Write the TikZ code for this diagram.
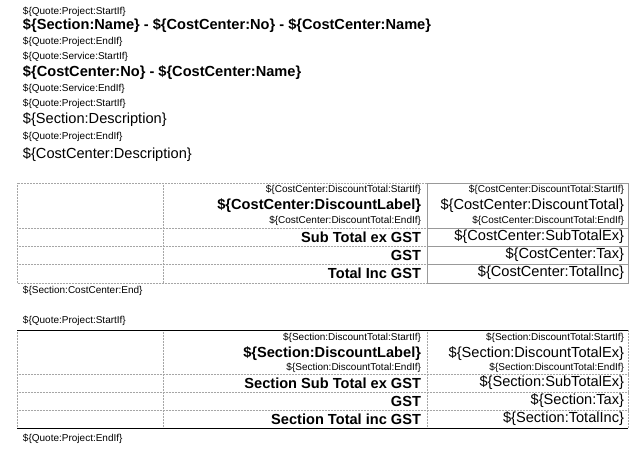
\documentclass[tikz,border=0pt]{standalone}
\usepackage{fontspec}
\setmainfont{Liberation Sans}
\usepackage{tikz}

\begin{document}
\begin{tikzpicture}[x=1pt,y=-1pt,
		every node/.style={inner sep=0pt,outer sep=0pt},
		tag/.style={font=\fontsize{10}{11}\selectfont},
		head/.style={font=\fontsize{14.6}{16}\selectfont\bfseries},
		field/.style={font=\fontsize{14.6}{16}\selectfont},
		lbl/.style={font=\fontsize{14.6}{16}\selectfont\bfseries,anchor=east},
		val/.style={font=\fontsize{14.6}{16}\selectfont,anchor=east},
		grid/.style={gray!70,densely dotted,line width=0.5pt},
		cell/.style={gray!80,line width=0.6pt},
		rule/.style={black,line width=0.7pt}]
	\useasboundingbox (0,0) rectangle (642,450);
	% template header lines
	\node[tag,anchor=west] (t1) at (23,12) {\$\{Quote:Project:StartIf\}};
	\node[head,anchor=west] (t2) at (23,26) {\$\{Section:Name\} - \$\{CostCenter:No\} - \$\{CostCenter:Name\}};
	\node[tag,anchor=west] (t3) at (23,42) {\$\{Quote:Project:EndIf\}};
	\node[tag,anchor=west] (t4) at (23,57) {\$\{Quote:Service:StartIf\}};
	\node[head,anchor=west] (t5) at (23,73) {\$\{CostCenter:No\} - \$\{CostCenter:Name\}};
	\node[tag,anchor=west] (t6) at (23,89) {\$\{Quote:Service:EndIf\}};
	\node[tag,anchor=west] (t7) at (23,104) {\$\{Quote:Project:StartIf\}};
	\node[field,anchor=west] (t8) at (23,120) {\$\{Section:Description\}};
	\node[tag,anchor=west] (t9) at (23,137) {\$\{Quote:Project:EndIf\}};
	\node[field,anchor=west] (t10) at (23,155) {\$\{CostCenter:Description\}};

	% cost centre totals
	\draw[grid] (17,183) rectangle (427,283);
	\foreach \y in {228,246,264} \draw[grid] (17,\y) -- (427,\y);
	\draw[grid] (163,183) -- (163,283);
	\draw[cell] (427,183) rectangle (628,283);
	\foreach \y in {228,246,264} \draw[cell] (427,\y) -- (628,\y);
	\node[tag,anchor=east] (c1) at (421,190) {\$\{CostCenter:DiscountTotal:StartIf\}};
	\node[lbl] (c2) at (421,206) {\$\{CostCenter:DiscountLabel\}};
	\node[tag,anchor=east] (c3) at (421,221) {\$\{CostCenter:DiscountTotal:EndIf\}};
	\node[tag,anchor=east] (c4) at (624,190) {\$\{CostCenter:DiscountTotal:StartIf\}};
	\node[val] (c5) at (624,206) {\$\{CostCenter:DiscountTotal\}};
	\node[tag,anchor=east] (c6) at (624,221) {\$\{CostCenter:DiscountTotal:EndIf\}};
	\node[lbl] (c7) at (421,237) {Sub Total ex GST};
	\node[val] (c8) at (624,237) {\$\{CostCenter:SubTotalEx\}};
	\node[lbl] (c9) at (421,255) {GST};
	\node[val] (c10) at (624,255) {\$\{CostCenter:Tax\}};
	\node[lbl] (c11) at (421,273) {Total Inc GST};
	\node[val] (c12) at (624,273) {\$\{CostCenter:TotalInc\}};
	\node[tag,anchor=west] (c13) at (23,291) {\$\{Section:CostCenter:End\}};

	% section totals
	\node[tag,anchor=west] (s0) at (23,321) {\$\{Quote:Project:StartIf\}};
	\draw[grid] (17,330) rectangle (628,428);
	\foreach \y in {374,392,410} \draw[grid] (17,\y) -- (628,\y);
	\foreach \x in {163,427} \draw[grid] (\x,330) -- (\x,428);
	\draw[rule] (17,330) -- (628,330);
	\draw[rule] (17,428) -- (628,428);
	\node[tag,anchor=east] (s1) at (421,338) {\$\{Section:DiscountTotal:StartIf\}};
	\node[lbl] (s2) at (421,354) {\$\{Section:DiscountLabel\}};
	\node[tag,anchor=east] (s3) at (421,368) {\$\{Section:DiscountTotal:EndIf\}};
	\node[tag,anchor=east] (s4) at (624,338) {\$\{Section:DiscountTotal:StartIf\}};
	\node[val] (s5) at (624,354) {\$\{Section:DiscountTotalEx\}};
	\node[tag,anchor=east] (s6) at (624,368) {\$\{Section:DiscountTotal:EndIf\}};
	\node[lbl] (s7) at (421,383) {Section Sub Total ex GST};
	\node[val] (s8) at (624,383) {\$\{Section:SubTotalEx\}};
	\node[lbl] (s9) at (421,401) {GST};
	\node[val] (s10) at (624,401) {\$\{Section:Tax\}};
	\node[lbl] (s11) at (421,419) {Section Total inc GST};
	\node[val] (s12) at (624,419) {\$\{Section:TotalInc\}};
	\node[tag,anchor=west] (s13) at (23,439) {\$\{Quote:Project:EndIf\}};
\end{tikzpicture}
\end{document}
